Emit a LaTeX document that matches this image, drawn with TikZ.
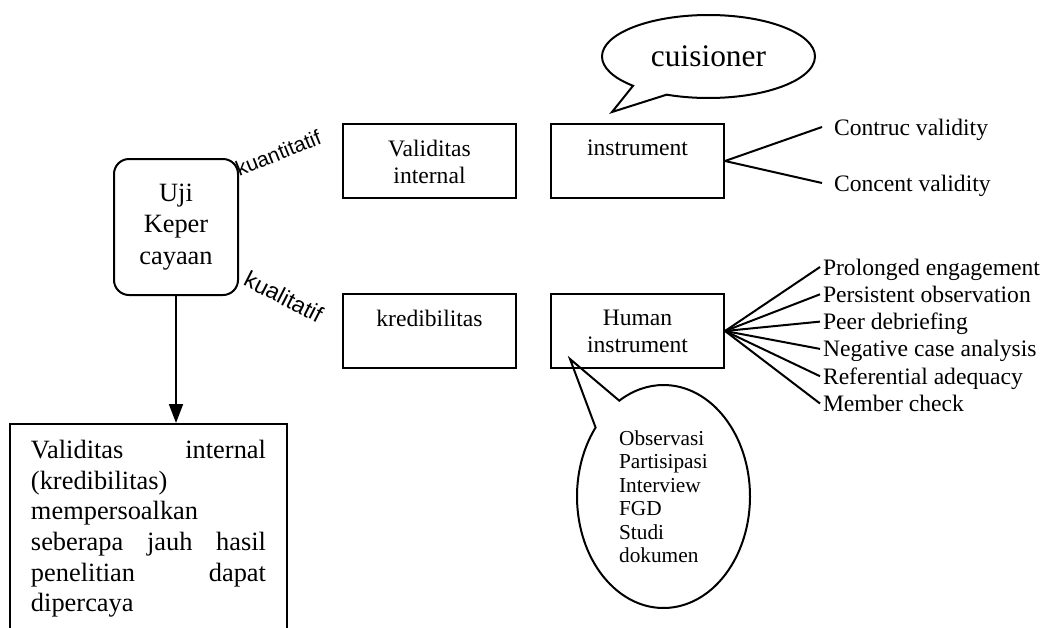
\documentclass[tikz,border=0pt]{standalone}
\usepackage{fontspec}
\setmainfont{Liberation Serif}
\newfontfamily\arialfont{Liberation Sans}
\usetikzlibrary{arrows.meta}
\usetikzlibrary{shapes.callouts}
\newcommand{\boxtxt}[1]{\parbox[c][21pt][t]{78.5pt}{\centering\fontsize{11.8}{13.5}\selectfont #1\par}}

\begin{document}
\begin{tikzpicture}[x=0.5pt,y=-0.5pt,line width=1pt,
    box/.style={draw,inner xsep=4pt,inner ysep=8pt,anchor=north west},
    item/.style={anchor=base west,inner xsep=1pt,inner ysep=0pt,text height=8pt,text depth=0pt,font=\fontsize{11.8}{13.5}\selectfont},
    bubble/.style={ellipse callout,draw,inner sep=0pt},
    lbl/.style={anchor=base,inner sep=0pt}]
    \useasboundingbox (0,0) rectangle (1048,627);
    % uji kepercayaan dan keterangannya
    \node[draw,rounded corners=7.5pt,minimum width=62pt,minimum height=68pt,align=center,font=\fontsize{13.2}{15.75}\selectfont] (uji) at (176,227) {Uji\\Keper\\cayaan};
    \node[draw,anchor=north,text width=117.5pt,inner xsep=10.5pt,inner ysep=8pt,align=left,font=\fontsize{13.2}{15.35}\selectfont] (desc) at (148.5,423) {Validitas\hfill internal\\(kredibilitas)\\mempersoalkan\\seberapa\hfill jauh\hfill hasil\\penelitian\hfill dapat\\dipercaya};
    \draw[-{Triangle[length=9.5pt,width=7pt]}] (uji.south) -- (uji.south |- desc.north);
    \node[lbl,rotate=22,font=\arialfont\fontsize{10.5}{12}\selectfont] (kuan) at (281,160) {kuantitatif};
    \node[lbl,rotate=-27,font=\arialfont\fontsize{11.5}{13}\selectfont] (kual) at (280,304) {kualitatif};
    % kotak
    \node[box] (valid) at (342,123) {\boxtxt{Validitas\\internal}};
    \node[box] (instr) at (550,123) {\boxtxt{instrument}};
    \node[box] (kred) at (342,293) {\boxtxt{kredibilitas}};
    \node[box] (human) at (550,293) {\boxtxt{Human\\instrument}};
    % cabang kanan
    \node[item,inner xsep=5.5pt] (contruc) at (822,135) {Contruc validity};
    \node[item,inner xsep=5.5pt] (concent) at (822,191) {Concent validity};
    \draw (instr.east) -- (contruc.west);
    \draw (instr.east) -- (concent.west);
    \node[item] (prol) at (820,275) {Prolonged engagement};
    \node[item] (pers) at (820,302.3) {Persistent observation};
    \node[item] (peer) at (820,329.6) {Peer debriefing};
    \node[item] (nega) at (820,356.9) {Negative case analysis};
    \node[item] (refe) at (820,384.2) {Referential adequacy};
    \node[item] (memb) at (820,411.5) {Member check};
    \draw (human.east) -- (prol.west);
    \draw (human.east) -- (pers.west);
    \draw (human.east) -- (peer.west);
    \draw (human.east) -- (nega.west);
    \draw (human.east) -- (refe.west);
    \draw (human.east) -- (memb.west);
    % balon
    \node[bubble,minimum width=106.5pt,minimum height=41.5pt,callout absolute pointer={(612,112)},callout pointer arc=22,font=\fontsize{15.7}{18}\selectfont] (cuis) at (708.5,56.5) {cuisioner};
    \node[bubble,minimum width=86.5pt,minimum height=111.5pt,callout absolute pointer={(570,359)},callout pointer arc=21,align=left,font=\fontsize{10.65}{11.75}\selectfont] (obs) at (663.5,496.5) {Observasi\\Partisipasi\\Interview\\FGD\\Studi\\dokumen};
\end{tikzpicture}
\end{document}
